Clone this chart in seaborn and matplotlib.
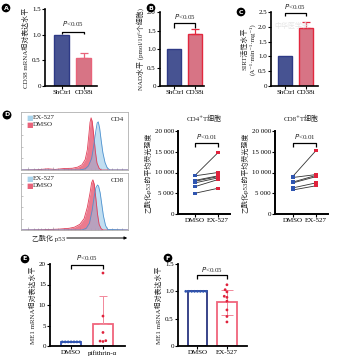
import numpy as np
import pandas as pd
import matplotlib
matplotlib.use("Agg")
import matplotlib.pyplot as plt
import seaborn as sns

# ---------------- data ----------------
groups_abc = ["ShCtrl", "CD38i"]
cd38_mrna = [1.0, 0.55]
cd38_err = [0.0, 0.10]
nad_level = [1.0, 1.41]
nad_err = [0.0, 0.13]
sirt_act = [1.0, 1.97]
sirt_err = [0.0, 0.18]

pair_groups = ["DMSO", "EX-527"]
cd4_dmso = [9300, 9200, 8100, 7900, 7500, 6600, 5000]
cd4_ex527 = [14800, 10000, 9200, 9000, 8700, 8300, 6200]
cd8_dmso = [9100, 8800, 7700, 7500, 6300, 5800]
cd8_ex527 = [15300, 9500, 9300, 9000, 7500, 6800]

e_groups = ["DMSO", "pifithrin-α"]
e_dmso_pts = [1.0, 1.0, 1.0, 1.0, 1.0, 1.0, 1.0]
e_pif_pts = [17.8, 7.3, 3.3, 1.3, 1.1, 1.2]
e_means = [1.0, 5.4]
e_sd = [0.0, 6.9]

f_groups = ["DMSO", "EX-527"]
f_dmso_pts = [1.0, 1.0, 1.0, 1.0, 1.0, 1.0, 1.0, 1.0]
f_ex_pts = [1.12, 1.03, 0.99, 0.91, 0.89, 0.82, 0.66, 0.54, 0.44]
f_means = [1.0, 0.80]
f_sd = [0.0, 0.23]

# flow histograms (x: fraction of axis width, h: fraction of height)
cd4_red_x = [0.0, 0.15, 0.25, 0.32, 0.40, 0.48, 0.53, 0.57, 0.60, 0.62, 0.635, 0.645, 0.655, 0.665, 0.68, 0.695, 0.71, 0.73, 0.75, 1.0]
cd4_red_h = [0.0, 0.005, 0.02, 0.01, 0.025, 0.03, 0.05, 0.09, 0.18, 0.35, 0.62, 0.82, 0.9, 0.84, 0.6, 0.32, 0.12, 0.03, 0.0, 0.0]
cd4_blue_x = [0.0, 0.55, 0.60, 0.63, 0.66, 0.68, 0.70, 0.712, 0.722, 0.735, 0.75, 0.765, 0.785, 0.805, 0.83, 1.0]
cd4_blue_h = [0.0, 0.0, 0.02, 0.07, 0.2, 0.42, 0.68, 0.81, 0.83, 0.72, 0.5, 0.3, 0.13, 0.04, 0.0, 0.0]
cd8_red_x = [0.0, 0.2, 0.35, 0.45, 0.50, 0.55, 0.59, 0.62, 0.645, 0.66, 0.672, 0.685, 0.70, 0.715, 0.73, 0.75, 0.77, 1.0]
cd8_red_h = [0.0, 0.005, 0.015, 0.03, 0.05, 0.1, 0.2, 0.4, 0.65, 0.83, 0.88, 0.8, 0.55, 0.28, 0.1, 0.02, 0.0, 0.0]
cd8_blue_x = [0.0, 0.57, 0.61, 0.64, 0.665, 0.685, 0.70, 0.715, 0.725, 0.74, 0.755, 0.77, 0.79, 0.81, 1.0]
cd8_blue_h = [0.0, 0.0, 0.03, 0.12, 0.35, 0.6, 0.74, 0.79, 0.77, 0.65, 0.45, 0.25, 0.08, 0.01, 0.0]

# ---------------- style ----------------
sns.set_theme(style="ticks")
FONT = ["Liberation Serif", "Noto Sans CJK SC", "DejaVu Sans"]
plt.rcParams["font.family"] = FONT
plt.rcParams["axes.unicode_minus"] = False
FS = 5

BLUE = "#3b4a9e"
BLUE_EDGE = "#2e3a86"
PINK = "#e8637a"
RED = "#e2283e"
DOT_BLUE = "#2f55b0"
DOT_RED = "#e0223c"

W, H = 337, 360
fig = plt.figure(figsize=(W / 100, H / 100), dpi=100)
fig.patch.set_facecolor("white")


def px_axes(x0, y0, x1, y1):
    return fig.add_axes([x0 / W, 1 - y1 / H, (x1 - x0) / W, (y1 - y0) / H])


def style_axes(ax, lw=1.2):
    sns.despine(ax=ax)
    for s in ["left", "bottom"]:
        ax.spines[s].set_linewidth(lw)
        ax.spines[s].set_color("black")
    ax.tick_params(axis="both", labelsize=FS, width=0.8, length=2, pad=1, colors="black")
    ax.set_xlabel("")


def bracket(ax, x0, x1, y, leg, ty, text):
    ax.plot([x0, x0, x1, x1], [y - leg, y, y, y - leg], color="black", lw=0.9,
            clip_on=False, solid_capstyle="butt")
    ax.text((x0 + x1) / 2, ty, text, ha="center", va="bottom", fontsize=FS,
            clip_on=False)


def ptext():
    return r"$\it{P}$<0.05"


def letter(x, y, s):
    fig.text(x / W, 1 - y / H, s, fontsize=4.5, color="white", fontweight="bold",
             ha="center", va="center", family="DejaVu Sans",
             bbox=dict(boxstyle="circle,pad=0.18", fc="black", ec="black"))


# ---------------- A, B, C ----------------
def bar_panel(rect, vals, errs, ylim, yticks, ylabel, br, fill_edge, xlim, width):
    ax = px_axes(*rect)
    df = pd.DataFrame({"group": groups_abc, "value": vals})
    sns.barplot(data=df, x="group", y="value", hue="group", palette=[BLUE, PINK],
                errorbar=None, legend=False, width=width, ax=ax, linewidth=0)
    edges = [BLUE_EDGE, fill_edge]
    for p, ec in zip(ax.patches, edges):
        p.set_edgecolor(ec)
        p.set_linewidth(1.0)
    ax.errorbar([1], [vals[1]], yerr=[[0], [errs[1]]], fmt="none", ecolor=RED if fill_edge == RED else PINK,
                elinewidth=0.9, capsize=3, capthick=0.9)
    ax.set_ylim(*ylim)
    ax.set_yticks(yticks)
    ax.set_yticklabels(["0" if t == 0 else f"{t:.1f}" for t in yticks])
    ax.set_xlim(*xlim)
    style_axes(ax)
    ax.set_ylabel(ylabel, fontsize=FS, labelpad=2)
    bracket(ax, 0, 1, br[0], br[1], br[2], ptext())
    return ax


bar_panel((45, 9, 97, 86), cd38_mrna, cd38_err, (0, 1.5), [0, 0.5, 1.0, 1.5],
          "CD38 mRNA相对表达水平", (1.06, 0.05, 1.13), PINK, (-0.75, 1.6), 0.68)
bar_panel((160, 12, 204, 86), nad_level, nad_err, (0, 2.0), [0, 0.5, 1.0, 1.5, 2.0],
          "NAD水平 (pmol/10⁶个细胞)", (1.70, 0.12, 1.76), RED, (-0.7, 1.45), 0.68)
axc = bar_panel((271, 12, 318, 86), sirt_act, sirt_err, (0, 2.5), [0, 0.5, 1.0, 1.5, 2.0, 2.5],
                "SIRT活性水平\n(A⁻¹·min⁻¹·mg⁻¹)", (2.48, 0.12, 2.53), RED, (-0.7, 1.6), 0.7)
fig.text(292 / W, 1 - 25 / H, "中华医学会", fontsize=5, color="#e6e6e6", ha="center",
         va="center", family=FONT)

letter(6, 8, "A")
letter(151, 8, "B")
letter(241, 12, "C")

# ---------------- D histograms ----------------
def hist_panel(rect, rx, rh, bx, bh, tag):
    ax = px_axes(*rect)
    ax.fill_between(rx, rh, color=PINK, alpha=0.85, lw=0)
    ax.plot(rx, rh, color="#e2405a", lw=0.6)
    ax.fill_between(bx, bh, color="#8fc3e6", alpha=0.55, lw=0)
    ax.plot(bx, bh, color="#4f93d0", lw=0.6)
    ax.set_xlim(0, 1)
    ax.set_ylim(0, 1)
    for s in ax.spines.values():
        s.set_color("#b0b0b0")
        s.set_linewidth(0.6)
        s.set_visible(True)
    ax.set_xticks([0.07, 0.3, 0.55, 0.8])
    ax.set_xticks([0.12, 0.16, 0.19, 0.22, 0.25, 0.35, 0.4, 0.44, 0.47, 0.5,
                   0.6, 0.65, 0.69, 0.72, 0.75, 0.85, 0.9, 0.94], minor=True)
    ax.set_yticks([0.2, 0.4, 0.6, 0.8])
    ax.tick_params(axis="both", which="both", direction="in", length=1.5, width=0.4,
                   colors="#999999", labelleft=False, labelbottom=False)
    ax.tick_params(axis="x", which="major", length=2.2)
    ax.text(0.05, 0.9, "■", color="#a9d4ec", fontsize=5, transform=ax.transAxes,
            va="center", family="DejaVu Sans")
    ax.text(0.05, 0.78, "■", color=PINK, fontsize=5, transform=ax.transAxes,
            va="center", family="DejaVu Sans")
    ax.text(0.11, 0.9, "EX-527", fontsize=FS, transform=ax.transAxes, va="center")
    ax.text(0.11, 0.78, "DMSO", fontsize=FS, transform=ax.transAxes, va="center")
    ax.text(0.96, 0.87, tag, fontsize=FS, transform=ax.transAxes, va="center", ha="right")
    return ax


hist_panel((21, 112, 128, 170), cd4_red_x, cd4_red_h, cd4_blue_x, cd4_blue_h, "CD4")
hist_panel((21, 173, 128, 230), cd8_red_x, cd8_red_h, cd8_blue_x, cd8_blue_h, "CD8")
fig.text(32 / W, 1 - 238 / H, "乙酰化 p53", fontsize=FS, va="center", ha="left", family=FONT)
fig.add_artist(matplotlib.patches.FancyArrowPatch((64 / W, 1 - 238 / H), (130 / W, 1 - 238 / H),
                                                  transform=fig.transFigure, arrowstyle="-|>",
                                                  mutation_scale=4, lw=0.7, color="black"))
letter(7, 115, "D")

# ---------------- D paired ----------------
def pair_panel(rect, dmso, ex, title, xlim):
    ax = px_axes(*rect)
    n = len(dmso)
    df = pd.DataFrame({
        "subject": list(range(n)) * 2,
        "group": [pair_groups[0]] * n + [pair_groups[1]] * n,
        "value": list(dmso) + list(ex),
    })
    df["xpos"] = df["group"].map({g: i for i, g in enumerate(pair_groups)})
    sns.lineplot(data=df, x="xpos", y="value", units="subject", estimator=None,
                 color="#333333", lw=0.6, ax=ax, legend=False)
    sns.scatterplot(data=df, x="xpos", y="value", hue="group",
                    palette=[DOT_BLUE, DOT_RED], s=5, marker="s", linewidth=0,
                    ax=ax, legend=False, zorder=3)
    ax.set_xlim(*xlim)
    ax.set_ylim(0, 20000)
    ax.set_yticks([0, 5000, 10000, 15000, 20000])
    ax.set_yticklabels(["0", "5 000", "10 000", "15 000", "20 000"])
    ax.set_xticks([0, 1])
    ax.set_xticklabels(pair_groups)
    style_axes(ax, lw=1.4)
    ax.set_ylabel("乙酰化p53的平均荧光强度", fontsize=FS, labelpad=2)
    ax.set_title(title, fontsize=FS, pad=7)
    bracket(ax, 0, 1, 17000, 900, 17700, r"$\it{P}$<0.01")
    return ax


pair_panel((178, 131, 230, 214), cd4_dmso, cd4_ex527, "CD4⁺T细胞", (-0.74, 1.52))
pair_panel((275, 131, 328, 214), cd8_dmso, cd8_ex527, "CD8⁺T细胞", (-0.78, 1.52))

# ---------------- E, F ----------------
def open_bar_panel(rect, groups, means, sd, pts0, pts1, ylim, yticks, fmt, br,
                   edge_cols, dot_cols, xlim, width, lower_err):
    ax = px_axes(*rect)
    dfm = pd.DataFrame({"group": groups, "value": means})
    sns.barplot(data=dfm, x="group", y="value", hue="group", palette=edge_cols,
                fill=False, errorbar=None, legend=False, width=width, ax=ax,
                linewidth=1.3)
    lo = sd[1] if lower_err else 0
    ax.errorbar([1], [means[1]], yerr=[[lo], [sd[1]]], fmt="none",
                ecolor="#f2889a", elinewidth=0.7, capsize=4 if lower_err else 3, capthick=0.7, zorder=4)
    dfp = pd.DataFrame({"group": [groups[0]] * len(pts0) + [groups[1]] * len(pts1),
                        "value": list(pts0) + list(pts1)})
    sns.swarmplot(data=dfp, x="group", y="value", hue="group", palette=dot_cols,
                  size=2, ax=ax, legend=False, zorder=5, linewidth=0)
    ax.set_ylim(*ylim)
    ax.set_yticks(yticks)
    ax.set_yticklabels([fmt(t) for t in yticks])
    ax.set_xlim(*xlim)
    style_axes(ax, lw=1.3)
    ax.set_ylabel("ME1 mRNA相对表达水平", fontsize=FS, labelpad=2)
    bracket(ax, 0, 1, br[0], br[1], br[2], ptext())
    return ax


open_bar_panel((50, 264, 125, 346), e_groups, e_means, e_sd, e_dmso_pts, e_pif_pts,
               (0, 20), [0, 5, 10, 15, 20], lambda t: f"{t:d}", (19.75, 1.0, 20.4),
               ["#3352b5", "#f0647c"], [DOT_BLUE, DOT_RED], (-0.66, 1.69), 0.63, False)
open_bar_panel((178, 264, 247, 346), f_groups, f_means, f_sd, f_dmso_pts, f_ex_pts,
               (0, 1.5), [0, 0.5, 1.0, 1.5], lambda t: "0" if t == 0 else f"{t:.1f}",
               (1.29, 0.07, 1.32), ["#2a3580", "#f0647c"], [DOT_BLUE, DOT_RED],
               (-0.66, 1.68), 0.66, True)
letter(25, 259, "E")
letter(168, 258, "F")

fig.savefig("out.png", dpi=100, facecolor="white")
